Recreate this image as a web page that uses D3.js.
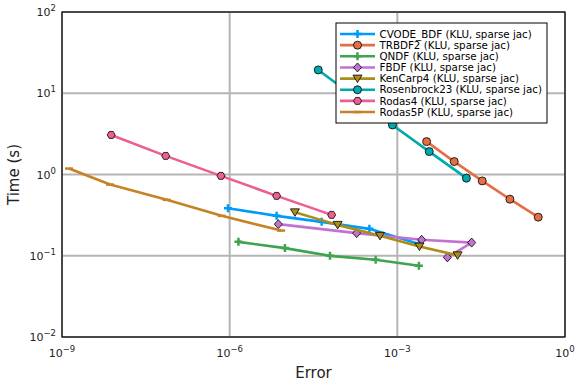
<!DOCTYPE html>
<html><head><meta charset="utf-8">
<script src="https://cdn.jsdelivr.net/npm/d3@7"></script>
<style>body{margin:0;background:#fff}</style>
</head><body><svg id="c" width="576" height="384" font-family="DejaVu Sans, Verdana, sans-serif"></svg>
<script>
// log10 values
const seriesNames = ["CVODE_BDF (KLU, sparse jac)","TRBDF2 (KLU, sparse jac)","QNDF (KLU, sparse jac)","FBDF (KLU, sparse jac)","KenCarp4 (KLU, sparse jac)","Rosenbrock23 (KLU, sparse jac)","Rodas4 (KLU, sparse jac)","Rodas5P (KLU, sparse jac)"];
const seriesColors = ["#009AFA","#E36F47","#3EA44E","#C371D2","#AC8D18","#00A9AD","#ED5E93","#C68225"];
const seriesMarkers = ["cross","circle","cross","diamond","dtriangle","circle","hexagon","hline"];
const cvodeErr = [-6.03,-5.16,-4.354,-3.5,-2.614];
const cvodeTime = [-0.415,-0.509,-0.583,-0.669,-0.854];
const trbdf2Err = [-2.476,-1.982,-1.481,-0.986,-0.479];
const trbdf2Time = [0.405,0.159,-0.079,-0.304,-0.525];
const qndfErr = [-5.843,-5.011,-4.206,-3.388,-2.614];
const qndfTime = [-0.829,-0.906,-1.001,-1.05,-1.124];
const fbdfErr = [-5.13,-3.728,-2.565,-1.67,-2.104];
const fbdfTime = [-0.611,-0.722,-0.804,-0.838,-1.02];
const kencarpErr = [-4.832,-4.068,-3.311,-2.605,-1.921];
const kencarpTime = [-0.466,-0.62,-0.755,-0.887,-0.995];
const rosenErr = [-4.415,-3.75,-3.088,-2.429,-1.764];
const rosenTime = [1.287,0.948,0.61,0.282,-0.045];
const rodas4Err = [-8.12,-7.145,-6.156,-5.16,-4.175];
const rodas4Time = [0.487,0.229,-0.017,-0.263,-0.497];
const rodas5pErr = [-8.875,-8.14,-7.127,-6.143,-5.08];
const rodas5pTime = [0.073,-0.124,-0.312,-0.509,-0.69];
const xTickExps = ["-9","-6","-3","0"];
const yTickExps = ["-2","-1","0","1","2"];

const errs = [cvodeErr,trbdf2Err,qndfErr,fbdfErr,kencarpErr,rosenErr,rodas4Err,rodas5pErr];
const times = [cvodeTime,trbdf2Time,qndfTime,fbdfTime,kencarpTime,rosenTime,rodas4Time,rodas5pTime];
const series = seriesNames.map((n,i)=>({name:n,color:seriesColors[i],marker:seriesMarkers[i],
  pts:errs[i].map((e,j)=>[Math.pow(10,e),Math.pow(10,times[i][j])])}));

const svg = d3.select("#c");
const L=62,R=565,T=12,B=337;
const x = d3.scaleLog().domain([1e-9,1]).range([L,R]);
const y = d3.scaleLog().domain([1e-2,1e2]).range([B,T]);

// grid
const g = svg.append("g");
xTickExps.forEach(e=>{const v=Math.pow(10,+e);
  g.append("line").attr("x1",x(v)).attr("x2",x(v)).attr("y1",T).attr("y2",B).attr("stroke","#b5b5b5").attr("stroke-width",2);});
yTickExps.forEach(e=>{const v=Math.pow(10,+e);
  g.append("line").attr("x1",L).attr("x2",R).attr("y1",y(v)).attr("y2",y(v)).attr("stroke","#b5b5b5").attr("stroke-width",2);});
// frame
svg.append("rect").attr("x",L).attr("y",T).attr("width",R-L).attr("height",B-T).attr("fill","none").attr("stroke","#000").attr("stroke-width",1.2);

// tick labels
xTickExps.forEach(e=>{const v=Math.pow(10,+e);
  const t=svg.append("text").attr("x",x(v)).attr("y",357).attr("text-anchor","middle").attr("font-size",11).attr("fill","#222");
  t.append("tspan").text("10");
  t.append("tspan").attr("dy",-5).attr("font-size",8.5).text(e.replace("-","\u2212"));
});
yTickExps.forEach(e=>{const v=Math.pow(10,+e);
  const t=svg.append("text").attr("x",56).attr("y",y(v)+4).attr("text-anchor","end").attr("font-size",11).attr("fill","#222");
  t.append("tspan").text("10");
  t.append("tspan").attr("dy",-5).attr("font-size",8.5).text(e.replace("-","\u2212"));
});
svg.append("text").attr("x",(L+R)/2).attr("y",378).attr("text-anchor","middle").attr("font-size",15).attr("fill","#222").text("Error");
svg.append("text").attr("transform",`translate(19,${(T+B)/2}) rotate(-90)`).attr("text-anchor","middle").attr("font-size",15).attr("fill","#222").text("Time (s)");

function drawMarker(sel,type,cx,cy,color){
  const s=4;
  if(type==="circle") sel.append("circle").attr("cx",cx).attr("cy",cy).attr("r",s).attr("fill",color).attr("stroke","#000").attr("stroke-width",0.8);
  else if(type==="cross"){
    sel.append("path").attr("d",`M${cx-s},${cy}H${cx+s}M${cx},${cy-s}V${cy+s}`).attr("stroke",color).attr("stroke-width",2.5).attr("fill","none");
  } else if(type==="diamond"){
    sel.append("path").attr("d",`M${cx},${cy-s-0.5}L${cx+s},${cy}L${cx},${cy+s+0.5}L${cx-s},${cy}Z`).attr("fill",color).attr("stroke","#000").attr("stroke-width",0.8);
  } else if(type==="dtriangle"){
    sel.append("path").attr("d",`M${cx-s-0.5},${cy-s+0.5}L${cx+s+0.5},${cy-s+0.5}L${cx},${cy+s}Z`).attr("fill",color).attr("stroke","#000").attr("stroke-width",0.8);
  } else if(type==="hexagon"){
    const pts=d3.range(6).map(k=>{const a=Math.PI/3*k;return [cx+s*Math.cos(a),cy+s*Math.sin(a)];});
    sel.append("path").attr("d","M"+pts.join("L")+"Z").attr("fill",color).attr("stroke","#000").attr("stroke-width",0.8);
  } else if(type==="hline"){
    sel.append("path").attr("d",`M${cx-s},${cy}H${cx+s}`).attr("stroke",color).attr("stroke-width",2.5);
  }
}

const line = d3.line().x(d=>x(d[0])).y(d=>y(d[1]));
const pg = svg.append("g");
series.forEach(s=>{
  pg.append("path").attr("d",line(s.pts)).attr("fill","none").attr("stroke",s.color).attr("stroke-width",2.6).attr("stroke-linejoin","round");
  s.pts.forEach(p=>drawMarker(pg,s.marker,x(p[0]),y(p[1]),s.color));
});

// legend
const lg = svg.append("g");
lg.append("rect").attr("x",336).attr("y",23).attr("width",211).attr("height",100).attr("fill","#fff").attr("stroke","#000").attr("stroke-width",1);
series.forEach((s,i)=>{
  const yy=34+i*11.15;
  lg.append("line").attr("x1",340).attr("x2",375).attr("y1",yy).attr("y2",yy).attr("stroke",s.color).attr("stroke-width",2.6);
  drawMarker(lg,s.marker,357.5,yy,s.color);
  lg.append("text").attr("x",379.5).attr("y",yy+3.7).attr("font-size",10.3).attr("fill","#000").text(s.name);
});
</script></body></html>
